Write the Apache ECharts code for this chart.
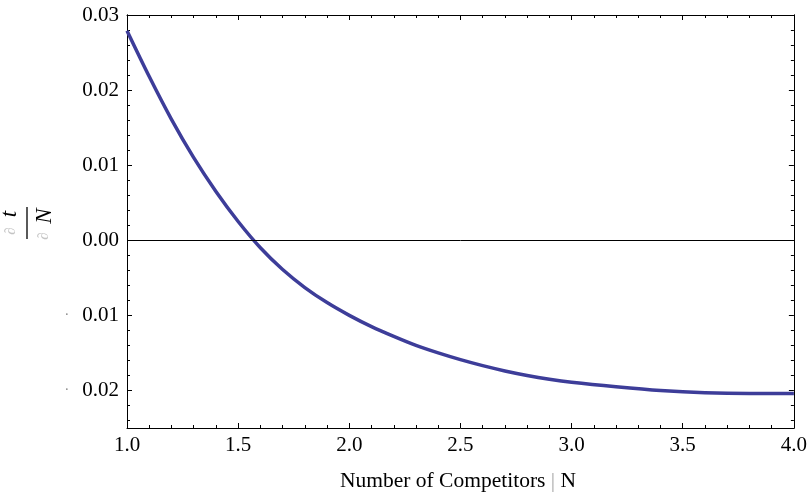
<!DOCTYPE html>
<html>
<head>
<meta charset="utf-8">
<script src="https://cdn.jsdelivr.net/npm/echarts@6/dist/echarts.min.js"></script>
<style>html,body{margin:0;padding:0;background:#fff}#c{width:810px;height:495px}</style>
</head>
<body>
<div id="c"></div>
<script>
// Data
var xValues = [1.0, 1.1, 1.2, 1.3, 1.4, 1.5, 1.6, 1.7, 1.8, 1.9, 2.0, 2.1, 2.2, 2.3, 2.4, 2.5, 2.6, 2.7, 2.8, 2.9, 3.0, 3.2, 3.4, 3.6, 3.8, 4.0];
var yValues = [0.0279, 0.0218, 0.0161, 0.0110, 0.0065, 0.0025, -0.0010, -0.0039, -0.0063, -0.0083, -0.0100, -0.0115, -0.0128, -0.0140, -0.0150, -0.0159, -0.0167, -0.0174, -0.0180, -0.0185, -0.0189, -0.0195, -0.0200, -0.0203, -0.0204, -0.0204];
var yTicks = [-0.02, -0.01, 0, 0.01, 0.02, 0.03];
var yTickLabels = ['{d|\u00b7}{n|0.02}', '{d|\u00b7}{n|0.01}', '0.00', '0.01', '0.02', '0.03'];
var yMinorTicks = [-0.024, -0.022, -0.018, -0.016, -0.014, -0.012, -0.008, -0.006, -0.004, -0.002, 0.002, 0.004, 0.006, 0.008, 0.012, 0.014, 0.016, 0.018, 0.022, 0.024, 0.026, 0.028];
var xLabelText = 'Number of Competitors';

var FONT = 'Liberation Serif';
var pts = xValues.map(function (x, i) { return [x, yValues[i]]; });

function yFmt(v) {
  for (var i = 0; i < yTicks.length; i++) {
    if (Math.abs(yTicks[i] - v) < 1e-9) return yTickLabels[i];
  }
  return '';
}

var lineCol = '#000';
function xAx(pos, labels) {
  return {
    type: 'value', position: pos, min: 1, max: 4, interval: 0.5,
    axisLine: { show: true, onZero: false, lineStyle: { color: lineCol, width: 1 } },
    axisTick: { show: true, inside: true, length: 5, lineStyle: { color: lineCol, width: 1 } },
    minorTick: { show: true, splitNumber: 5, length: 3, lineStyle: { color: lineCol, width: 1 } },
    axisLabel: { show: labels, margin: 7, color: '#000', fontFamily: FONT, fontSize: 21,
      formatter: function (v) { return v.toFixed(1); } },
    splitLine: { show: false }
  };
}
function yAx(pos, vals, len, labels) {
  return {
    type: 'value', position: pos, min: -0.025, max: 0.03,
    axisLine: { show: true, onZero: false, lineStyle: { color: lineCol, width: 1 } },
    axisTick: { show: true, inside: true, length: len, customValues: vals, lineStyle: { color: lineCol, width: 1 } },
    axisLabel: { show: labels, margin: 8, customValues: yTicks, color: '#000', fontFamily: FONT, fontSize: 21,
      formatter: yFmt,
      rich: {
        d: { color: '#888', fontFamily: FONT, fontSize: 14, padding: [0, 13, 0, 0] },
        n: { color: '#000', fontFamily: FONT, fontSize: 21 }
      } },
    splitLine: { show: false }
  };
}

var chart = echarts.init(document.getElementById('c'), null, { renderer: 'canvas' });
chart.setOption({
  backgroundColor: '#fff',
  animation: false,
  grid: { left: 127, right: 14, top: 15, bottom: 67, containLabel: false },
  xAxis: [xAx('bottom', true), xAx('top', false)],
  yAxis: [
    yAx('left', yTicks, 5, true),
    yAx('left', yMinorTicks, 3, false),
    yAx('right', yTicks, 5, false),
    yAx('right', yMinorTicks, 3, false)
  ],
  graphic: [
    {
      type: 'text', x: 458, y: 481,
      style: {
        text: '{a|' + xLabelText + ' }{b||}{a| N}',
        align: 'center', verticalAlign: 'middle',
        rich: {
          a: { fontFamily: FONT, fontSize: 21.5, fill: '#000', color: '#000' },
          b: { fontFamily: FONT, fontSize: 21.5, fill: '#aaa', color: '#aaa' }
        }
      }
    },
    {
      type: 'group', x: 27, y: 223, rotation: Math.PI / 2,
      children: [
        { type: 'text', style: { text: '\u2202', x: -8, y: -16, align: 'center', verticalAlign: 'middle', fontFamily: FONT, fontSize: 15, fill: '#c4c4c4' } },
        { type: 'text', style: { text: 't', x: 9, y: -17, align: 'center', verticalAlign: 'middle', fontFamily: FONT, fontStyle: 'italic', fontSize: 23, fill: '#000' } },
        { type: 'line', shape: { x1: -16, y1: 0, x2: 16, y2: 0 }, style: { stroke: '#000', lineWidth: 1.3 } },
        { type: 'text', style: { text: '\u2202', x: -13, y: 17, align: 'center', verticalAlign: 'middle', fontFamily: FONT, fontSize: 15, fill: '#c4c4c4' } },
        { type: 'text', style: { text: 'N', x: 7, y: 18, align: 'center', verticalAlign: 'middle', fontFamily: FONT, fontStyle: 'italic', fontSize: 23, fill: '#000' } }
      ]
    }
  ],
  series: [{
    type: 'line',
    xAxisIndex: 0, yAxisIndex: 0,
    data: pts,
    smooth: 0.3,
    showSymbol: false,
    clip: true,
    lineStyle: { color: '#3d3d99', width: 3.5 },
    markLine: {
      silent: true, symbol: 'none', animation: false,
      label: { show: false },
      lineStyle: { color: '#000', width: 1, type: 'solid' },
      data: [{ yAxis: 0 }]
    },
    z: 3
  }]
});
</script>
</body>
</html>
